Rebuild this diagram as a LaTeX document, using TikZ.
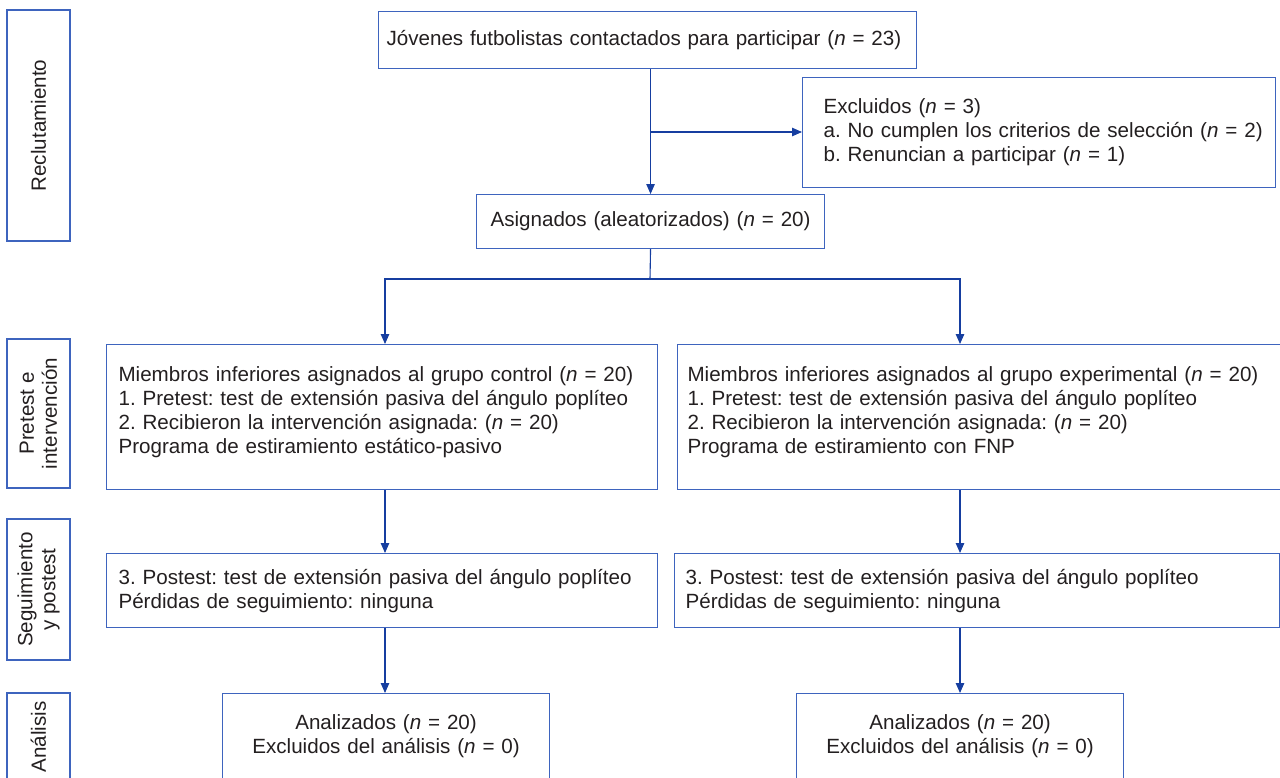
\documentclass[tikz,border=0pt]{standalone}
\usepackage{fontspec}
\setmainfont{Liberation Sans}
\usetikzlibrary{arrows.meta}
\definecolor{boxblue}{RGB}{62,100,190}
\definecolor{lineblue}{RGB}{22,62,160}
\definecolor{txtgray}{RGB}{35,31,32}
\newcommand\nn{\textit{n}}
\newcommand\ind{\hspace*{21pt}}
\newcommand\lift{\rule[-14pt]{0pt}{14pt}}
\tikzset{
  flowbox/.style={draw=boxblue, line width=1.1pt, text=txtgray, anchor=north west,
    font=\fontsize{20.6}{24}\selectfont, inner ysep=0pt, align=left},
  sidebox/.style={draw=boxblue, line width=1.1pt, text=txtgray, rotate=90,
    font=\fontsize{20.6}{23}\selectfont, inner sep=0pt, align=center, minimum height=63pt},
  conn/.style={draw=lineblue, line width=1.1pt},
  arr/.style={conn, -{Triangle[length=10pt,width=8.5pt]}}
}
\begin{document}
\frenchspacing
\begin{tikzpicture}[x=1pt,y=-1pt]
\useasboundingbox (0,0) rectangle (1280,777);
\clip (0,0) rectangle (1280,777);
% Drawing side labels
\node[sidebox, minimum width=231pt] (recl) at (38.5,125.5) {Reclutamiento};
\node[sidebox, minimum width=149pt] (pre) at (38.5,413.5) {Pretest e\\intervención};
\node[sidebox, minimum width=141pt] (seg) at (38.5,589.5) {Seguimiento\\y postest};
\node[sidebox, minimum width=88pt] (anal) at (38.5,737) {Análisis};
% Drawing boxes
\node[flowbox, inner xsep=8pt, text width=522pt, minimum height=57pt] (top) at (378,11)
  {Jóvenes futbolistas contactados para participar (\nn{} = 23)};
\node[flowbox, inner xsep=0pt, text width=473pt, minimum height=110pt] (excl) at (802,77)
  {\ind Excluidos (\nn{} = 3)\\\ind a. No cumplen los criterios de selección (\nn{} = 2)\\\ind b. Renuncian a participar (\nn{} = 1)};
\node[flowbox, inner xsep=0pt, text width=348pt, align=center, minimum height=54pt] (asig) at (476,194)
  {Asignados (aleatorizados) (\nn{} = 20)};
\node[flowbox, inner xsep=12pt, text width=527pt, minimum height=145pt] (ctrl) at (106,344)
  {Miembros inferiores asignados al grupo control (\nn{} = 20)\\1. Pretest: test de extensión pasiva del ángulo poplíteo\\2. Recibieron la intervención asignada: (\nn{} = 20)\\Programa de estiramiento estático-pasivo\lift};
\node[flowbox, inner xsep=10pt, text width=584pt, minimum height=145pt] (expe) at (677,344)
  {Miembros inferiores asignados al grupo experimental (\nn{} = 20)\\1. Pretest: test de extensión pasiva del ángulo poplíteo\\2. Recibieron la intervención asignada: (\nn{} = 20)\\Programa de estiramiento con FNP\lift};
\node[flowbox, inner xsep=12pt, text width=527pt, minimum height=74pt] (postC) at (106,553)
  {3. Postest: test de extensión pasiva del ángulo poplíteo\\Pérdidas de seguimiento: ninguna};
\node[flowbox, inner xsep=11pt, text width=583pt, minimum height=74pt] (postE) at (674,553)
  {3. Postest: test de extensión pasiva del ángulo poplíteo\\Pérdidas de seguimiento: ninguna};
\node[flowbox, inner xsep=0pt, text width=327pt, align=center, minimum height=86pt] (anaC) at (222,693)
  {Analizados (\nn{} = 20)\\Excluidos del análisis (\nn{} = 0)};
\node[flowbox, inner xsep=0pt, text width=327pt, align=center, minimum height=86pt] (anaE) at (796,693)
  {Analizados (\nn{} = 20)\\Excluidos del análisis (\nn{} = 0)};
% Drawing connectors
\coordinate (colC) at (385,0);
\coordinate (colE) at (960,0);
\coordinate (branch) at (650,132);
\coordinate (split) at (650,279);
\draw[arr] (top.south -| asig) -- (asig.north);
\draw[arr] (branch) -- (branch -| excl.west);
\draw[conn] (asig.south) -- (split);
\draw[arr] (split) -| (ctrl.north -| colC);
\draw[arr] (split) -| (expe.north -| colE);
\draw[arr] (ctrl.south -| colC) -- (postC.north -| colC);
\draw[arr] (expe.south -| colE) -- (postE.north -| colE);
\draw[arr] (postC.south -| colC) -- (anaC.north -| colC);
\draw[arr] (postE.south -| colE) -- (anaE.north -| colE);
\end{tikzpicture}
\end{document}
